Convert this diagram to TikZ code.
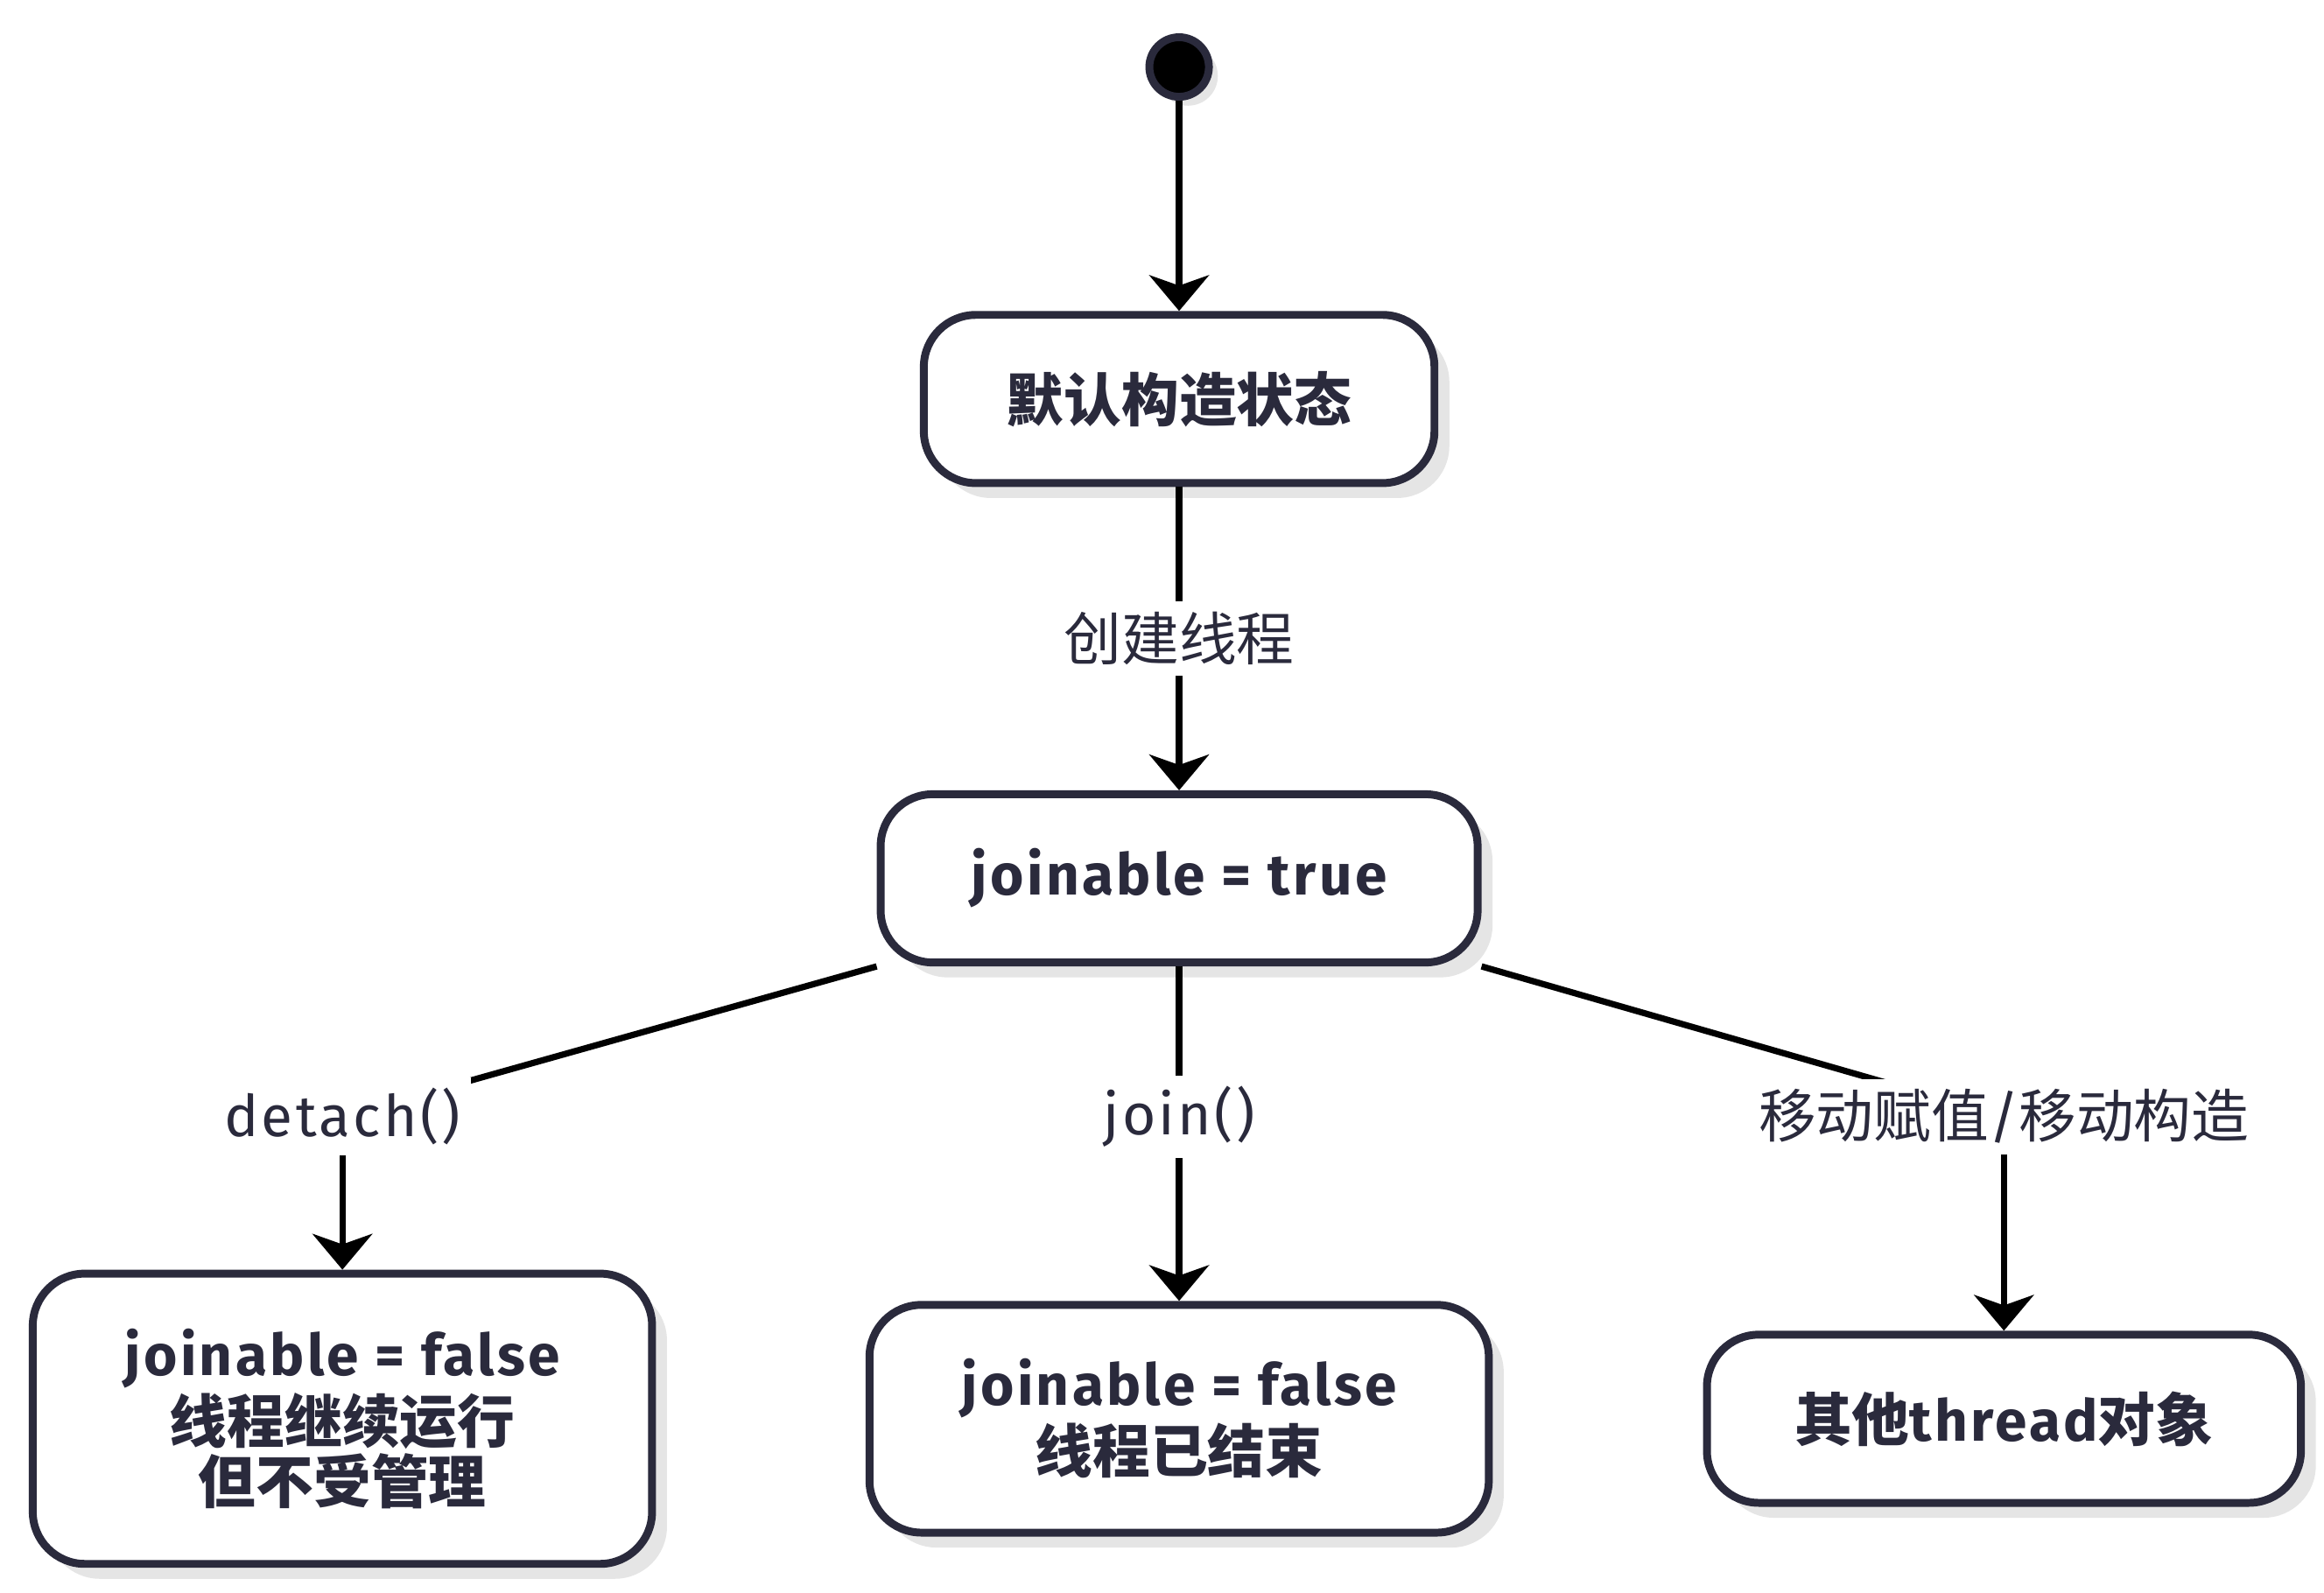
\documentclass[tikz,border=0pt]{standalone}
\usepackage{fontspec}
\setmainfont{Fira Sans}[LetterSpace=5]
\newfontfamily\cjk{Noto Sans CJK SC}
\usetikzlibrary{arrows.meta,shadows}
\definecolor{ink}{HTML}{2A2A3C}
\tikzset{
  state/.style={draw=ink, line width=1.5pt, fill=white, rounded corners=0.35cm,
    align=center, text=ink, font=\fontsize{11}{11.5}\selectfont\bfseries,
    drop shadow={shadow xshift=0.1cm, shadow yshift=-0.1cm, fill=black!10, opacity=1}},
  lbl/.style={fill=white, text=ink, inner sep=2pt, font=\fontsize{11}{13}\selectfont},
  flow/.style={line width=1.2pt, draw=black},
  tip/.style={-{Stealth[length=0.24cm,width=0.4cm,inset=0.07cm]}}
}
\begin{document}
\begin{tikzpicture}
  \useasboundingbox (0,0) rectangle (15.61,-10.7);
  % start
  \node[circle, fill=black, draw=ink, line width=1.5pt, minimum size=0.4cm, inner sep=0pt,
    drop shadow={shadow xshift=0.06cm, shadow yshift=-0.06cm, fill=black!10, opacity=1}] (start) at (7.92,-0.45) {};
  % states
  \node[state, minimum width=3.43cm, minimum height=1.13cm] (dflt) at (7.92,-2.68) {{\cjk\bfseries 默认构造状态}};
  \node[state, minimum width=4.01cm, minimum height=1.13cm] (jtrue) at (7.92,-5.9) {joinable = true};
  \node[state, minimum width=4.16cm, minimum height=1.95cm] (detd) at (2.3,-9.53) {joinable = false\\{\cjk\bfseries 线程继续运行}\\{\cjk\bfseries 但不受管理}};
  \node[state, minimum width=4.16cm, minimum height=1.53cm] (done) at (7.92,-9.53) {joinable = false\\{\cjk\bfseries 线程已结束}};
  \node[state, minimum width=3.99cm, minimum height=1.13cm] (moved) at (13.46,-9.53) {{\cjk\bfseries 其他}thread{\cjk\bfseries 对象}};
  % transitions
  \coordinate (ldet) at (2.3,-7.5);
  \coordinate (lmov) at (13.46,-7.5);
  \draw[flow, tip] (start) -- (dflt);
  \draw[flow, tip] (dflt) -- node[lbl] {{\cjk 创建线程}} (jtrue);
  \draw[flow, tip] (jtrue) -- node[lbl, pos=0.45] {join()} (done);
  \draw[flow] (jtrue.south west) -- (ldet);
  \draw[flow, tip] (ldet) -- (detd);
  \node[lbl] at (ldet) {detach()};
  \draw[flow] (jtrue.south east) -- (lmov);
  \draw[flow, tip] (lmov) -- (moved);
  \node[lbl] at (lmov) {{\cjk 移动赋值}/{\cjk 移动构造}};
\end{tikzpicture}
\end{document}
